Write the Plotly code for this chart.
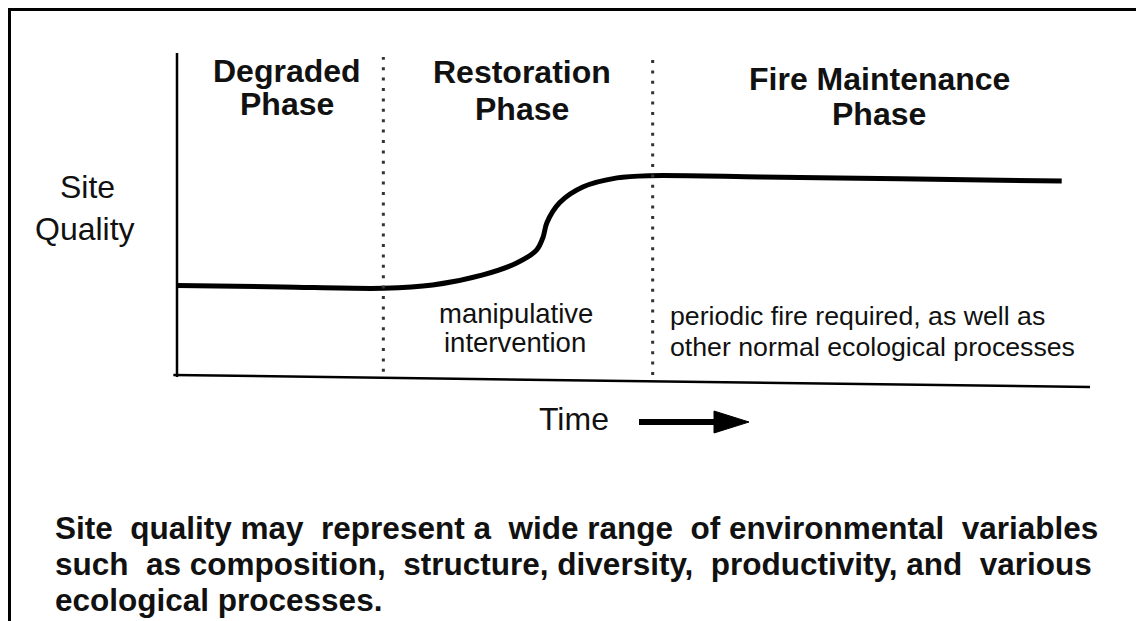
import plotly.graph_objects as go

# The page body adds an 8px margin, so the figure is drawn 8px in from the window edge.
OFF = 8
W, H = 1144 - OFF, 621 - OFF

# ---- data (time vs. site quality, both 0-100 scale) ----
time = [0, 11.6, 22.6, 28.0, 33.5, 37.2, 39.4, 40.1, 40.5, 41.9, 44.5, 48.2, 51.8, 63.9, 79.2, 96.9]
site_quality = [28.0, 27.5, 27.1, 28.1, 31.3, 35.0, 39.1, 43.1, 47.5, 53.8, 58.8, 61.6, 62.3, 61.9, 61.3, 60.6]

phase_boundaries = [22.6, 52.1]
phase_titles = [["Degraded", "Phase"], ["Restoration", "Phase"], ["Fire Maintenance", "Phase"]]
phase_notes = [["manipulative", "intervention"],
               ["periodic fire required, as well as", "other normal ecological processes"]]
y_label = ["Site", "Quality"]
x_label = "Time"
caption_lines = [
    "Site quality may represent a wide range of environmental variables",
    "such as composition, structure, diversity, productivity, and various",
    "ecological processes.",
]
caption_extra_spaces = [[1, 0, 1, 0, 1, 0, 1, 0, 1], [1, 0, 1, 0, 1, 0, 1], [0]]

# ---- layout geometry (window pixels) ----
X0_PX, X100_PX = 177, 1090
Y0_PX, Y100_PX = 375, 55
sx = (X100_PX - X0_PX) / 100.0
sy = (Y0_PX - Y100_PX) / 100.0
x_range = [-(X0_PX - OFF) / sx, (W - (X0_PX - OFF)) / sx]
y_range = [((Y0_PX - OFF) - H) / sy, (Y0_PX - OFF) / sy]


def px(x):
    return (x - OFF) / W


def py(y):
    return 1 - (y - OFF) / H


FONT = "Liberation Sans, Arial, sans-serif"
INK = "#111111"

fig = go.Figure()
fig.add_trace(go.Scatter(
    x=time, y=site_quality, mode="lines",
    line=dict(color="black", width=5, shape="spline", smoothing=0.9),
    hoverinfo="skip", showlegend=False,
))

shapes = []
# outer frame (left + top)
shapes.append(dict(type="line", xref="paper", yref="paper", x0=px(9.5), x1=px(9.5), y0=py(9.5), y1=py(621),
                   line=dict(color="black", width=3)))
shapes.append(dict(type="line", xref="paper", yref="paper", x0=px(8), x1=px(1144), y0=py(9.5), y1=py(9.5),
                   line=dict(color="black", width=3)))
# axes
shapes.append(dict(type="line", xref="x", yref="y", x0=0, x1=0, y0=-0.6, y1=100.6,
                   line=dict(color="black", width=2.5)))
shapes.append(dict(type="line", xref="x", yref="y", x0=-0.4, x1=100, y0=0, y1=-3.75,
                   line=dict(color="black", width=2.5)))
# phase boundaries (dotted)
for b, (ya, yb) in zip(phase_boundaries, [(1.0, 99.4), (0.0, 98.5)]):
    shapes.append(dict(type="line", xref="x", yref="y", x0=b, x1=b, y0=ya, y1=yb,
                       line=dict(color="#333333", width=3, dash="3px,7.4px")))
# time arrow
shapes.append(dict(type="line", xref="paper", yref="paper", x0=px(639), x1=px(718), y0=py(422), y1=py(422),
                   line=dict(color="black", width=6)))
head = [(714, 411), (749, 422), (714, 433)]
path = "M {} {} L {} {} L {} {} Z".format(*[v for p in head for v in (px(p[0]), py(p[1]))])
shapes.append(dict(type="path", xref="paper", yref="paper", path=path,
                   fillcolor="black", line=dict(color="black", width=1)))

ann = []


def text(x, y, s, size, bold=False, anchor="center"):
    ann.append(dict(xref="paper", yref="paper", x=px(x), y=py(y), text=s, showarrow=False,
                    xanchor=anchor, yanchor="middle",
                    font=dict(family=FONT, size=size, color=INK, weight="bold" if bold else "normal")))


# phase titles
title_pos = [(287, 71, 104), (522, 72, 109), (879, 79, 114)]
for (cx, y1, y2), lines in zip(title_pos, phase_titles):
    text(cx, y1, lines[0], 32, True)
    text(cx, y2, lines[1], 32, True)

# y label
text(87, 187, y_label[0], 32)
text(85, 229, y_label[1], 32)

# notes
text(516, 313, phase_notes[0][0], 27.5)
text(515, 342, phase_notes[0][1], 27.5)
text(668, 316, phase_notes[1][0], 26.7, anchor="left")
text(668, 347, phase_notes[1][1], 26.7, anchor="left")

# x label
text(574, 419, x_label, 32)

# caption (slightly justified with extra non-breaking spaces)
cap_y = [528, 564, 600]
for line, extras, yy in zip(caption_lines, caption_extra_spaces, cap_y):
    words = line.split(" ")
    s = words[0]
    for w, k in zip(words[1:], extras):
        s += " " + "\u00a0" * k + w
    text(53, yy, s, 31.5, True, anchor="left")

fig.update_layout(
    width=W, height=H, autosize=False,
    margin=dict(l=0, r=0, t=0, b=0),
    paper_bgcolor="white", plot_bgcolor="white",
    xaxis=dict(range=x_range, visible=False, fixedrange=True),
    yaxis=dict(range=y_range, visible=False, fixedrange=True),
    shapes=shapes, annotations=ann, showlegend=False,
)

fig.write_html("out.html")
